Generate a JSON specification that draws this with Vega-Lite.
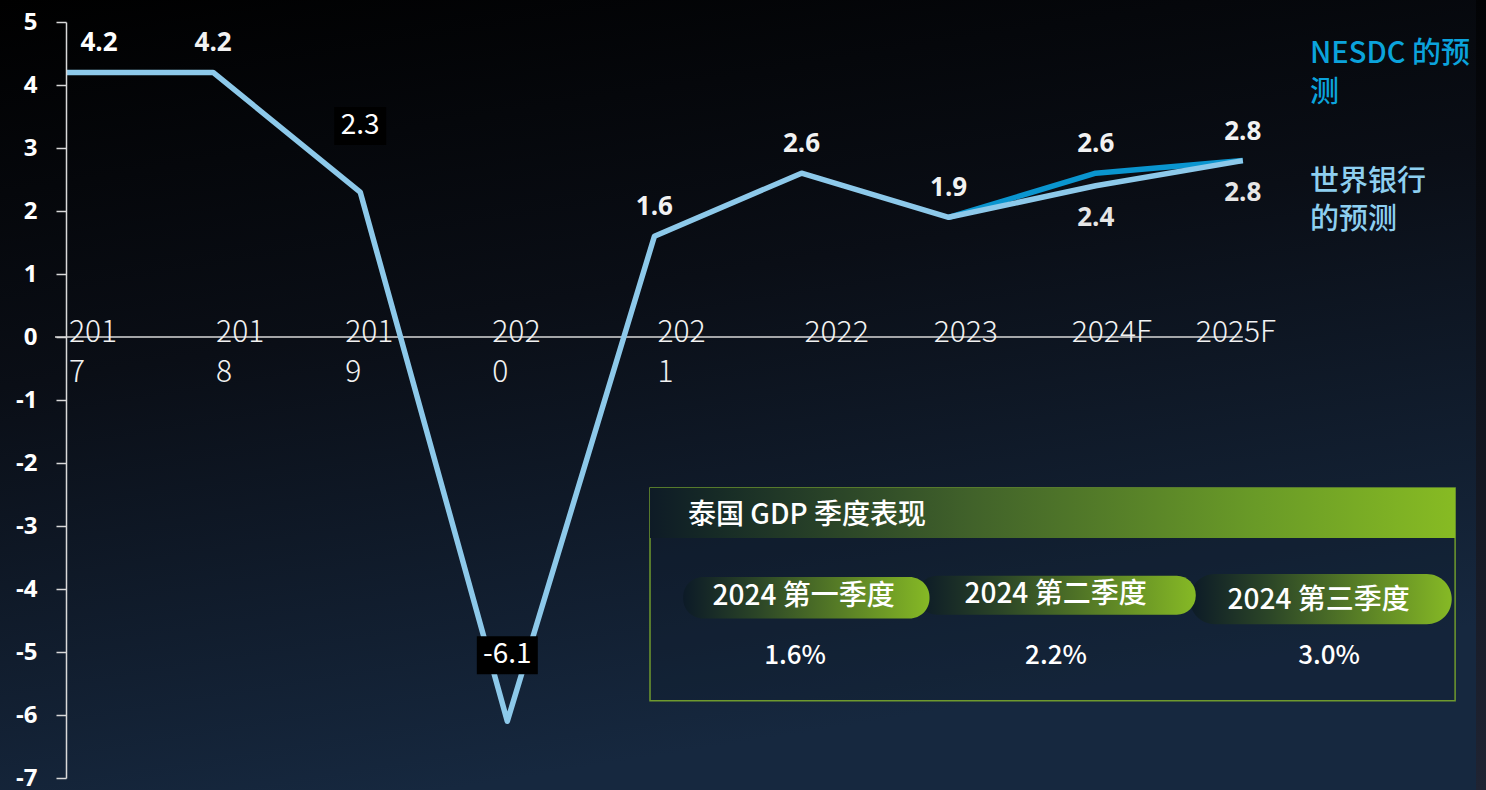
{
  "$schema": "https://vega.github.io/schema/vega-lite/v6.json",
  "width": 1420,
  "height": 756,
  "autosize": "none",
  "padding": {"left": 66, "top": 22, "right": 0, "bottom": 12},
  "background": "#05080d",
  "config": {
    "view": {"stroke": null},
    "text": {"font": "Noto Sans CJK SC"}
  },
  "datasets": {
    "gdp": [
      {"idx": 0, "year": "2017", "axisLabel": "201\n7", "series": "世界银行", "value": 4.2},
      {"idx": 1, "year": "2018", "axisLabel": "201\n8", "series": "世界银行", "value": 4.2},
      {"idx": 2, "year": "2019", "axisLabel": "201\n9", "series": "世界银行", "value": 2.3},
      {"idx": 3, "year": "2020", "axisLabel": "202\n0", "series": "世界银行", "value": -6.1},
      {"idx": 4, "year": "2021", "axisLabel": "202\n1", "series": "世界银行", "value": 1.6},
      {"idx": 5, "year": "2022", "axisLabel": "2022", "series": "世界银行", "value": 2.6},
      {"idx": 6, "year": "2023", "axisLabel": "2023", "series": "世界银行", "value": 1.9},
      {"idx": 7, "year": "2024F", "axisLabel": "2024F", "series": "世界银行", "value": 2.4},
      {"idx": 8, "year": "2025F", "axisLabel": "2025F", "series": "世界银行", "value": 2.8},
      {"idx": 6, "year": "2023", "series": "NESDC", "value": 1.9},
      {"idx": 7, "year": "2024F", "series": "NESDC", "value": 2.6},
      {"idx": 8, "year": "2025F", "series": "NESDC", "value": 2.8}
    ],
    "quarters": [
      {"quarter": "2024 第一季度", "growth": "1.6%"},
      {"quarter": "2024 第二季度", "growth": "2.2%"},
      {"quarter": "2024 第三季度", "growth": "3.0%"}
    ]
  },
  "layer": [
    {
      "data": {"values": [{}]},
      "mark": {"type": "rect", "fill": {"gradient": "linear", "x1": 0, "y1": 0, "x2": 0.3, "y2": 1, "stops": [{"offset": 0, "color": "#000000"}, {"offset": 0.45, "color": "#0a0e16"}, {"offset": 1, "color": "#16283f"}]}},
      "encoding": {
        "x": {"datum": -0.449, "type": "quantitative", "scale": {"domain": [0, 9.653], "nice": false, "zero": false}, "axis": null},
        "x2": {"datum": 9.653},
        "y": {"datum": 5.349, "type": "quantitative", "scale": {"domain": [-7, 5], "nice": false, "zero": false}, "axis": {"title": null, "values": [-7, -6, -5, -4, -3, -2, -1, 0, 1, 2, 3, 4, 5], "labelExpr": "'' + datum.value", "zindex": 2, "grid": false, "domainColor": "#d9d9d9", "domainWidth": 1.5, "tickColor": "#d9d9d9", "tickWidth": 1.5, "tickSize": 10, "labelPadding": 19, "labelFont": "Open Sans", "labelFontSize": 24, "labelFontWeight": "bold", "labelColor": "#ffffff", "labelBaseline": "middle"}},
        "y2": {"datum": -7.19}
      }
    },
    {
      "data": {"values": [{}]},
      "mark": {"type": "rect", "fill": {"gradient": "linear", "x1": 0, "y1": 0, "x2": 0, "y2": 1, "stops": [{"offset": 0, "color": "#020305"}, {"offset": 1, "color": "#1f2433"}]}},
      "encoding": {
        "x": {"datum": 9.585, "type": "quantitative", "scale": {"domain": [0, 9.653], "nice": false, "zero": false}, "axis": null},
        "x2": {"datum": 9.653},
        "y": {"datum": 5.349, "type": "quantitative", "scale": {"domain": [-7, 5], "nice": false, "zero": false}, "axis": {"title": null}},
        "y2": {"datum": -7.19}
      }
    },
    {
      "data": {"values": [{}]},
      "mark": {"type": "rect", "fill": "#0f1d2e", "fillOpacity": 0.3, "stroke": "#6f9a2e", "strokeWidth": 1.5},
      "encoding": {
        "x": {"datum": 3.97, "type": "quantitative", "scale": {"domain": [0, 9.653], "nice": false, "zero": false}, "axis": null},
        "x2": {"datum": 9.443},
        "y": {"datum": -2.397, "type": "quantitative", "scale": {"domain": [-7, 5], "nice": false, "zero": false}, "axis": {"title": null}},
        "y2": {"datum": -5.773}
      }
    },
    {
      "data": {"values": [{}]},
      "mark": {"type": "rect", "fill": {"gradient": "linear", "x1": 0, "y1": 0, "x2": 1, "y2": 0, "stops": [{"offset": 0, "color": "#0e1b26"}, {"offset": 0.08, "color": "#162a26"}, {"offset": 0.4, "color": "#41622a"}, {"offset": 0.75, "color": "#699a27"}, {"offset": 1, "color": "#87bb23"}]}},
      "encoding": {
        "x": {"datum": 3.97, "type": "quantitative", "scale": {"domain": [0, 9.653], "nice": false, "zero": false}, "axis": null},
        "x2": {"datum": 9.443},
        "y": {"datum": -2.397, "type": "quantitative", "scale": {"domain": [-7, 5], "nice": false, "zero": false}, "axis": {"title": null}},
        "y2": {"datum": -3.19}
      }
    },
    {
      "data": {"values": [{}]},
      "mark": {"type": "text", "text": "泰国 GDP 季度表现", "align": "left", "baseline": "middle", "fontSize": 28, "fontWeight": 500, "color": "#ffffff"},
      "encoding": {
        "x": {"datum": 4.228, "type": "quantitative", "scale": {"domain": [0, 9.653], "nice": false, "zero": false}, "axis": null},
        "y": {"datum": -2.84, "type": "quantitative", "scale": {"domain": [-7, 5], "nice": false, "zero": false}, "axis": {"title": null}}
      }
    },
    {
      "data": {"name": "quarters"},
      "transform": [{"filter": "datum.quarter === '2024 第三季度'"}],
      "mark": {"type": "rect", "cornerRadius": 25, "fill": {"gradient": "linear", "x1": 0, "y1": 0, "x2": 1, "y2": 0, "stops": [{"offset": 0, "color": "#0c1a27"}, {"offset": 0.3, "color": "#2b4527"}, {"offset": 1, "color": "#86b925"}]}},
      "encoding": {
        "x": {"datum": 7.64, "type": "quantitative", "scale": {"domain": [0, 9.653], "nice": false, "zero": false}, "axis": null},
        "x2": {"datum": 9.42},
        "y": {"datum": -3.76, "type": "quantitative", "scale": {"domain": [-7, 5], "nice": false, "zero": false}, "axis": {"title": null}},
        "y2": {"datum": -4.56}
      }
    },
    {
      "data": {"name": "quarters"},
      "transform": [{"filter": "datum.quarter === '2024 第二季度'"}],
      "mark": {"type": "rect", "cornerRadius": 19, "fill": {"gradient": "linear", "x1": 0, "y1": 0, "x2": 1, "y2": 0, "stops": [{"offset": 0, "color": "#0c1a27"}, {"offset": 0.3, "color": "#2b4527"}, {"offset": 1, "color": "#86b925"}]}},
      "encoding": {
        "x": {"datum": 5.79, "type": "quantitative", "scale": {"domain": [0, 9.653], "nice": false, "zero": false}, "axis": null},
        "x2": {"datum": 7.68},
        "y": {"datum": -3.79, "type": "quantitative", "scale": {"domain": [-7, 5], "nice": false, "zero": false}, "axis": {"title": null}},
        "y2": {"datum": -4.41}
      }
    },
    {
      "data": {"name": "quarters"},
      "transform": [{"filter": "datum.quarter === '2024 第一季度'"}],
      "mark": {"type": "rect", "cornerRadius": 20, "fill": {"gradient": "linear", "x1": 0, "y1": 0, "x2": 1, "y2": 0, "stops": [{"offset": 0, "color": "#0c1a27"}, {"offset": 0.3, "color": "#2b4527"}, {"offset": 1, "color": "#86b925"}]}},
      "encoding": {
        "x": {"datum": 4.195, "type": "quantitative", "scale": {"domain": [0, 9.653], "nice": false, "zero": false}, "axis": null},
        "x2": {"datum": 5.87},
        "y": {"datum": -3.81, "type": "quantitative", "scale": {"domain": [-7, 5], "nice": false, "zero": false}, "axis": {"title": null}},
        "y2": {"datum": -4.47}
      }
    },
    {
      "data": {"name": "quarters"},
      "transform": [{"filter": "datum.quarter === '2024 第一季度'"}],
      "mark": {"type": "text", "align": "center", "baseline": "middle", "fontSize": 28, "fontWeight": 500, "color": "#ffffff"},
      "encoding": {
        "text": {"field": "quarter"},
        "x": {"datum": 5.014, "type": "quantitative", "scale": {"domain": [0, 9.653], "nice": false, "zero": false}, "axis": null},
        "y": {"datum": -4.127, "type": "quantitative", "scale": {"domain": [-7, 5], "nice": false, "zero": false}, "axis": {"title": null}}
      }
    },
    {
      "data": {"name": "quarters"},
      "transform": [{"filter": "datum.quarter === '2024 第二季度'"}],
      "mark": {"type": "text", "align": "center", "baseline": "middle", "fontSize": 28, "fontWeight": 500, "color": "#ffffff"},
      "encoding": {
        "text": {"field": "quarter"},
        "x": {"datum": 6.727, "type": "quantitative", "scale": {"domain": [0, 9.653], "nice": false, "zero": false}, "axis": null},
        "y": {"datum": -4.095, "type": "quantitative", "scale": {"domain": [-7, 5], "nice": false, "zero": false}, "axis": {"title": null}}
      }
    },
    {
      "data": {"name": "quarters"},
      "transform": [{"filter": "datum.quarter === '2024 第三季度'"}],
      "mark": {"type": "text", "align": "center", "baseline": "middle", "fontSize": 28, "fontWeight": 500, "color": "#ffffff"},
      "encoding": {
        "text": {"field": "quarter"},
        "x": {"datum": 8.515, "type": "quantitative", "scale": {"domain": [0, 9.653], "nice": false, "zero": false}, "axis": null},
        "y": {"datum": -4.19, "type": "quantitative", "scale": {"domain": [-7, 5], "nice": false, "zero": false}, "axis": {"title": null}}
      }
    },
    {
      "data": {"name": "quarters"},
      "transform": [{"filter": "datum.quarter === '2024 第一季度'"}],
      "mark": {"type": "text", "align": "center", "baseline": "middle", "fontSize": 26, "fontWeight": 500, "color": "#ffffff"},
      "encoding": {
        "text": {"field": "growth"},
        "x": {"datum": 4.956, "type": "quantitative", "scale": {"domain": [0, 9.653], "nice": false, "zero": false}, "axis": null},
        "y": {"datum": -5.063, "type": "quantitative", "scale": {"domain": [-7, 5], "nice": false, "zero": false}, "axis": {"title": null}}
      }
    },
    {
      "data": {"name": "quarters"},
      "transform": [{"filter": "datum.quarter === '2024 第二季度'"}],
      "mark": {"type": "text", "align": "center", "baseline": "middle", "fontSize": 26, "fontWeight": 500, "color": "#ffffff"},
      "encoding": {
        "text": {"field": "growth"},
        "x": {"datum": 6.73, "type": "quantitative", "scale": {"domain": [0, 9.653], "nice": false, "zero": false}, "axis": null},
        "y": {"datum": -5.063, "type": "quantitative", "scale": {"domain": [-7, 5], "nice": false, "zero": false}, "axis": {"title": null}}
      }
    },
    {
      "data": {"name": "quarters"},
      "transform": [{"filter": "datum.quarter === '2024 第三季度'"}],
      "mark": {"type": "text", "align": "center", "baseline": "middle", "fontSize": 26, "fontWeight": 500, "color": "#ffffff"},
      "encoding": {
        "text": {"field": "growth"},
        "x": {"datum": 8.586, "type": "quantitative", "scale": {"domain": [0, 9.653], "nice": false, "zero": false}, "axis": null},
        "y": {"datum": -5.063, "type": "quantitative", "scale": {"domain": [-7, 5], "nice": false, "zero": false}, "axis": {"title": null}}
      }
    },
    {
      "data": {"values": [{}]},
      "mark": {"type": "rule", "color": "#d8d8d8", "strokeWidth": 1.5},
      "encoding": {
        "x": {"datum": -0.075, "type": "quantitative", "scale": {"domain": [0, 9.653], "nice": false, "zero": false}, "axis": null},
        "x2": {"datum": 8.0},
        "y": {"datum": 0, "type": "quantitative", "scale": {"domain": [-7, 5], "nice": false, "zero": false}, "axis": {"title": null}}
      }
    },
    {
      "data": {"name": "gdp"},
      "transform": [{"filter": "datum.series === '世界银行' && indexof(['2017','2018','2021','2022'], datum.year) >= 0"}],
      "mark": {"type": "text", "align": "left", "baseline": "alphabetic", "dx": 3, "dy": 5, "fontSize": 30, "fontWeight": 300, "lineBreak": "\n", "lineHeight": 40, "color": "#f2f2f2"},
      "encoding": {
        "text": {"field": "axisLabel"},
        "x": {"field": "idx", "type": "quantitative", "scale": {"domain": [0, 9.653], "nice": false, "zero": false}, "axis": null},
        "y": {"datum": 0, "type": "quantitative", "scale": {"domain": [-7, 5], "nice": false, "zero": false}, "axis": {"title": null}}
      }
    },
    {
      "data": {"name": "gdp"},
      "transform": [{"filter": "datum.series === '世界银行' && indexof(['2019','2020','2023'], datum.year) >= 0"}],
      "mark": {"type": "text", "align": "left", "baseline": "alphabetic", "dx": -15, "dy": 5, "fontSize": 30, "fontWeight": 300, "lineBreak": "\n", "lineHeight": 40, "color": "#f2f2f2"},
      "encoding": {
        "text": {"field": "axisLabel"},
        "x": {"field": "idx", "type": "quantitative", "scale": {"domain": [0, 9.653], "nice": false, "zero": false}, "axis": null},
        "y": {"datum": 0, "type": "quantitative", "scale": {"domain": [-7, 5], "nice": false, "zero": false}, "axis": {"title": null}}
      }
    },
    {
      "data": {"name": "gdp"},
      "transform": [{"filter": "datum.series === '世界银行' && datum.year === '2024F'"}],
      "mark": {"type": "text", "align": "left", "baseline": "alphabetic", "dx": -24, "dy": 5, "fontSize": 30, "fontWeight": 300, "color": "#f2f2f2"},
      "encoding": {
        "text": {"field": "axisLabel"},
        "x": {"field": "idx", "type": "quantitative", "scale": {"domain": [0, 9.653], "nice": false, "zero": false}, "axis": null},
        "y": {"datum": 0, "type": "quantitative", "scale": {"domain": [-7, 5], "nice": false, "zero": false}, "axis": {"title": null}}
      }
    },
    {
      "data": {"name": "gdp"},
      "transform": [{"filter": "datum.series === '世界银行' && datum.year === '2025F'"}],
      "mark": {"type": "text", "align": "left", "baseline": "alphabetic", "dx": -47, "dy": 5, "fontSize": 30, "fontWeight": 300, "color": "#f2f2f2"},
      "encoding": {
        "text": {"field": "axisLabel"},
        "x": {"field": "idx", "type": "quantitative", "scale": {"domain": [0, 9.653], "nice": false, "zero": false}, "axis": null},
        "y": {"datum": 0, "type": "quantitative", "scale": {"domain": [-7, 5], "nice": false, "zero": false}, "axis": {"title": null}}
      }
    },
    {
      "data": {"name": "gdp"},
      "transform": [{"filter": "datum.series === 'NESDC'"}],
      "mark": {"type": "line", "color": "#0a95cf", "strokeWidth": 5.5, "strokeJoin": "round"},
      "encoding": {
        "x": {"field": "idx", "type": "quantitative", "scale": {"domain": [0, 9.653], "nice": false, "zero": false}, "axis": null},
        "y": {"field": "value", "type": "quantitative", "scale": {"domain": [-7, 5], "nice": false, "zero": false}, "axis": {"title": null}}
      }
    },
    {
      "data": {"name": "gdp"},
      "transform": [{"filter": "datum.series === '世界银行'"}],
      "mark": {"type": "line", "color": "#8dc9ea", "strokeWidth": 5.5, "strokeJoin": "round"},
      "encoding": {
        "x": {"field": "idx", "type": "quantitative", "scale": {"domain": [0, 9.653], "nice": false, "zero": false}, "axis": null},
        "y": {"field": "value", "type": "quantitative", "scale": {"domain": [-7, 5], "nice": false, "zero": false}, "axis": {"title": null}}
      }
    },
    {
      "data": {"name": "gdp"},
      "transform": [{"filter": "datum.series === '世界银行' && datum.year === '2019'"}],
      "mark": {"type": "point", "shape": "M-1.368,-1H1.368V1H-1.368Z", "size": 1444, "filled": true, "color": "#000000", "opacity": 1, "yOffset": -66},
      "encoding": {
        "x": {"field": "idx", "type": "quantitative", "scale": {"domain": [0, 9.653], "nice": false, "zero": false}, "axis": null},
        "y": {"field": "value", "type": "quantitative", "scale": {"domain": [-7, 5], "nice": false, "zero": false}, "axis": {"title": null}}
      }
    },
    {
      "data": {"name": "gdp"},
      "transform": [{"filter": "datum.series === '世界银行' && datum.year === '2020'"}],
      "mark": {"type": "point", "shape": "M-1.605,-1H1.605V1H-1.605Z", "size": 1444, "filled": true, "color": "#000000", "opacity": 1, "yOffset": -66},
      "encoding": {
        "x": {"field": "idx", "type": "quantitative", "scale": {"domain": [0, 9.653], "nice": false, "zero": false}, "axis": null},
        "y": {"field": "value", "type": "quantitative", "scale": {"domain": [-7, 5], "nice": false, "zero": false}, "axis": {"title": null}}
      }
    },
    {
      "data": {"name": "gdp"},
      "transform": [{"filter": "datum.series === '世界银行' && indexof(['2019','2020'], datum.year) >= 0"}],
      "mark": {"type": "text", "align": "center", "baseline": "middle", "dy": -66, "fontSize": 28, "fontWeight": 400, "color": "#ffffff"},
      "encoding": {
        "text": {"field": "value", "type": "nominal"},
        "x": {"field": "idx", "type": "quantitative", "scale": {"domain": [0, 9.653], "nice": false, "zero": false}, "axis": null},
        "y": {"field": "value", "type": "quantitative", "scale": {"domain": [-7, 5], "nice": false, "zero": false}, "axis": {"title": null}}
      }
    },
    {
      "data": {"name": "gdp"},
      "transform": [{"filter": "(datum.series === '世界银行' && indexof(['2018','2021','2022','2023'], datum.year) >= 0) || (datum.series === 'NESDC' && indexof(['2024F','2025F'], datum.year) >= 0)"}],
      "mark": {"type": "text", "align": "center", "baseline": "middle", "dy": -29, "font": "Open Sans", "fontSize": 26, "fontWeight": "bold", "color": "#f2f2f2"},
      "encoding": {
        "text": {"field": "value", "type": "quantitative", "format": ".1f"},
        "x": {"field": "idx", "type": "quantitative", "scale": {"domain": [0, 9.653], "nice": false, "zero": false}, "axis": null},
        "y": {"field": "value", "type": "quantitative", "scale": {"domain": [-7, 5], "nice": false, "zero": false}, "axis": {"title": null}}
      }
    },
    {
      "data": {"name": "gdp"},
      "transform": [{"filter": "datum.series === '世界银行' && datum.year === '2017'"}],
      "mark": {"type": "text", "align": "center", "baseline": "middle", "dx": 33, "dy": -29, "font": "Open Sans", "fontSize": 26, "fontWeight": "bold", "color": "#ffffff"},
      "encoding": {
        "text": {"field": "value", "type": "quantitative", "format": ".1f"},
        "x": {"field": "idx", "type": "quantitative", "scale": {"domain": [0, 9.653], "nice": false, "zero": false}, "axis": null},
        "y": {"field": "value", "type": "quantitative", "scale": {"domain": [-7, 5], "nice": false, "zero": false}, "axis": {"title": null}}
      }
    },
    {
      "data": {"name": "gdp"},
      "transform": [{"filter": "datum.series === '世界银行' && indexof(['2024F','2025F'], datum.year) >= 0"}],
      "mark": {"type": "text", "align": "center", "baseline": "middle", "dy": 32, "font": "Open Sans", "fontSize": 26, "fontWeight": "bold", "color": "#e6e6e6"},
      "encoding": {
        "text": {"field": "value", "type": "quantitative", "format": ".1f"},
        "x": {"field": "idx", "type": "quantitative", "scale": {"domain": [0, 9.653], "nice": false, "zero": false}, "axis": null},
        "y": {"field": "value", "type": "quantitative", "scale": {"domain": [-7, 5], "nice": false, "zero": false}, "axis": {"title": null}}
      }
    },
    {
      "data": {"values": [{}]},
      "mark": {"type": "text", "text": ["NESDC 的预", "测"], "align": "left", "baseline": "alphabetic", "fontSize": 29, "fontWeight": 500, "lineHeight": 39, "color": "#0ba3dc"},
      "encoding": {
        "x": {"datum": 8.457, "type": "quantitative", "scale": {"domain": [0, 9.653], "nice": false, "zero": false}, "axis": null},
        "y": {"datum": 4.349, "type": "quantitative", "scale": {"domain": [-7, 5], "nice": false, "zero": false}, "axis": {"title": null}}
      }
    },
    {
      "data": {"values": [{}]},
      "mark": {"type": "text", "text": ["世界银行", "的预测"], "align": "left", "baseline": "alphabetic", "fontSize": 29, "fontWeight": 500, "lineHeight": 38, "color": "#8ecff0"},
      "encoding": {
        "x": {"datum": 8.457, "type": "quantitative", "scale": {"domain": [0, 9.653], "nice": false, "zero": false}, "axis": null},
        "y": {"datum": 2.317, "type": "quantitative", "scale": {"domain": [-7, 5], "nice": false, "zero": false}, "axis": {"title": null}}
      }
    }
  ]
}
